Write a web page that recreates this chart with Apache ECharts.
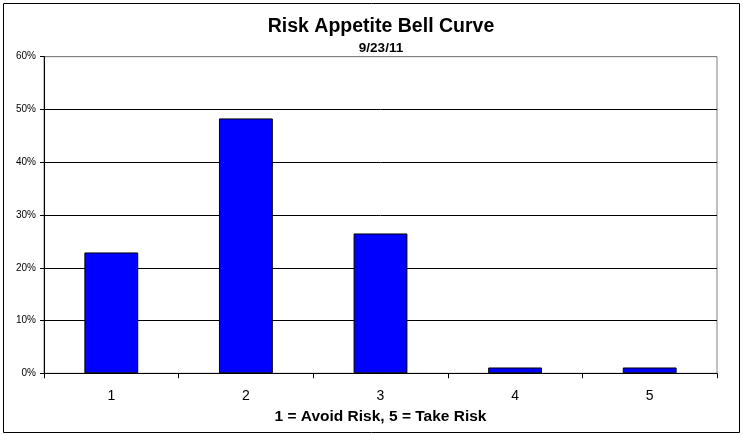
<!DOCTYPE html>
<html>
<head>
<meta charset="utf-8">
<script src="https://cdn.jsdelivr.net/npm/echarts@6/dist/echarts.min.js"></script>
<style>
  html, body { margin: 0; padding: 0; background: #fff; }
  #main { width: 745px; height: 435px; }
</style>
</head>
<body>
<div id="main"></div>
<script>
// answers on a 1-5 scale
const categories = ['1', '2', '3', '4', '5'];
const shares = [22.9, 48.3, 26.5, 1.1, 1.1];
const yTicks = { min: 0, max: 60, interval: 10 };

const dom = document.getElementById('main');
const chart = echarts.init(dom);

const option = {
  animation: false,
  backgroundColor: '#fff',
  title: {
    text: 'Risk Appetite Bell Curve',
    subtext: '9/23/11',
    left: 376,
    top: 12,
    textAlign: 'center',
    itemGap: 4,
    textStyle: { fontFamily: 'Arial', fontSize: 19.5, fontWeight: 'bold', color: '#000' },
    subtextStyle: { fontFamily: 'Arial', fontSize: 13.5, fontWeight: 'bold', color: '#000' }
  },
  graphic: [{
    type: 'rect',
    shape: { x: 3.5, y: 3.5, width: 736, height: 429 },
    style: { fill: null, stroke: '#000', lineWidth: 1 },
    silent: true
  }],
  grid: {
    left: 44, right: 28, top: 56.7, bottom: 61.7,
    show: true, borderColor: '#808080', borderWidth: 1
  },
  xAxis: {
    type: 'category',
    data: categories,
    name: '1 = Avoid Risk, 5 = Take Risk',
    nameLocation: 'middle',
    nameGap: 35,
    nameTextStyle: { fontFamily: 'Arial', fontSize: 15.5, fontWeight: 'bold', color: '#000' },
    axisLine: { lineStyle: { color: '#000', width: 1 } },
    axisTick: { show: true, alignWithLabel: false, length: 5, lineStyle: { color: '#000' } },
    axisLabel: { fontFamily: 'Arial', fontSize: 14, color: '#000', margin: 16 }
  },
  yAxis: {
    type: 'value',
    min: yTicks.min,
    max: yTicks.max,
    interval: yTicks.interval,
    axisLine: { show: true, lineStyle: { color: '#000', width: 1 } },
    axisTick: { show: true, length: 4, lineStyle: { color: '#000' } },
    axisLabel: { fontFamily: 'Arial', fontSize: 10, color: '#000', margin: 8, formatter: '{value}%' },
    splitLine: {
      show: true,
      lineStyle: { color: ['#000', '#000', '#000', '#000', '#000', '#000', '#808080'], width: 1 }
    }
  },
  series: [{
    type: 'bar',
    data: shares,
    barWidth: '40%',
    itemStyle: { color: '#0000ff', borderColor: '#000', borderWidth: 1 }
  }]
};

option && chart.setOption(option);
</script>
</body>
</html>
